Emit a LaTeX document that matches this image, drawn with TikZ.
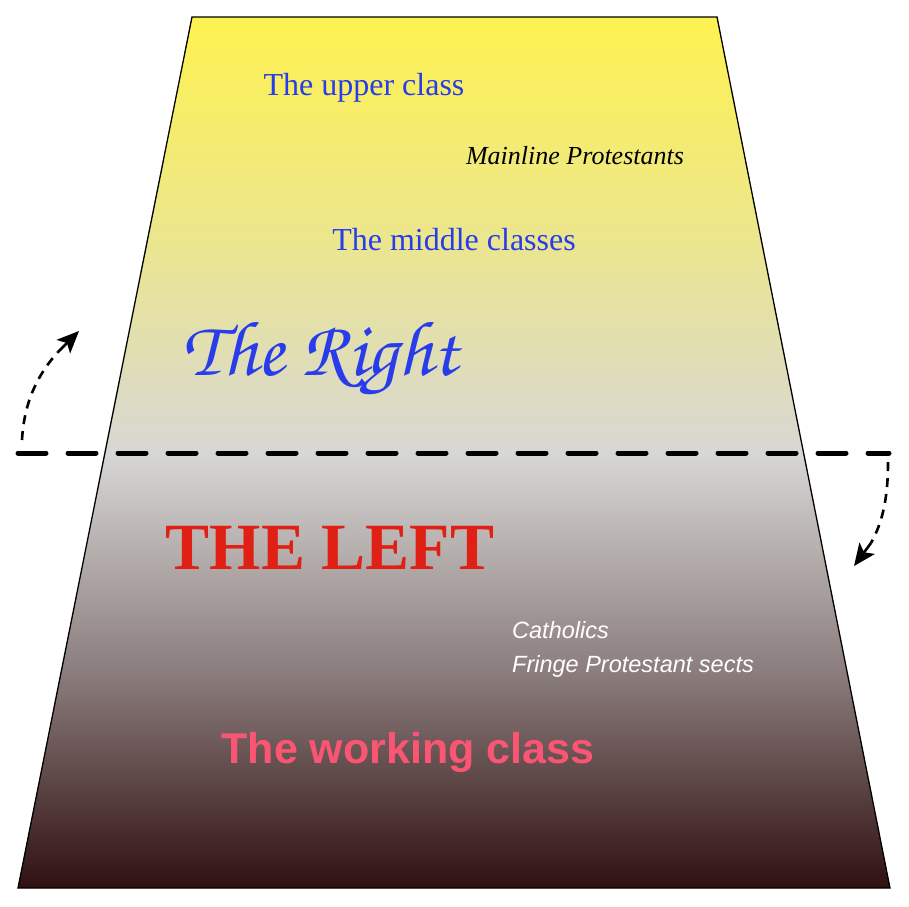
\documentclass[tikz,border=0pt]{standalone}
\usepackage{fontspec}
\usepackage{graphicx}
\setmainfont{Liberation Serif}
\newfontfamily\sansf{Liberation Sans}
\usetikzlibrary{arrows.meta}
\definecolor{topy}{RGB}{254,242,80}
\definecolor{upq}{RGB}{236,230,140}
\definecolor{midg}{RGB}{215,215,213}
\definecolor{lowq}{RGB}{140,126,126}
\definecolor{boty}{RGB}{48,16,16}
\definecolor{txtblue}{RGB}{40,60,235}
\definecolor{leftred}{RGB}{224,32,20}
\definecolor{workpink}{RGB}{250,85,115}
\pgfdeclareverticalshading{trapshade}{100bp}{color(0bp)=(boty); color(25bp)=(boty); color(37.5bp)=(lowq); color(50bp)=(midg); color(62.5bp)=(upq); color(75bp)=(topy); color(100bp)=(topy)}
\tikzset{
  bluetext/.style={text=txtblue, font=\fontsize{32}{36}\selectfont, inner sep=0pt},
  divider/.style={line width=5pt, dash pattern=on 28pt off 22pt, line cap=round},
  turnarrow/.style={line width=2.6pt, dash pattern=on 9pt off 7pt},
  bigtip/.style={line width=2.6pt, solid, -{Stealth[length=22pt,width=19pt,inset=5pt]}},
}
\begin{document}
\begin{tikzpicture}[x=1pt,y=-1pt]
\useasboundingbox (0,0) rectangle (909,906);
\shade[shading=trapshade, draw=black, line width=1.3pt] (192,17) -- (717,17) -- (890,888) -- (18,888) -- cycle;

\node[bluetext] (upper) at (364,88) {The upper class};
\node[inner sep=0pt, font=\itshape\fontsize{26}{30}\selectfont] (mainline) at (575,156) {Mainline Protestants};
\node[bluetext] (middle) at (454,240) {The middle classes};
\node[inner sep=0pt, text=txtblue] (right) at (320,360) {\resizebox{275pt}{!}{\fontencoding{OT1}\fontfamily{pzc}\fontseries{mb}\fontshape{it}\selectfont The Right}};
\node[inner sep=0pt, text=leftred, font=\bfseries\fontsize{66}{70}\selectfont] (left) at (330,548) {THE LEFT};
\node[anchor=base west, inner sep=0pt, text=white, font=\sansf\itshape\fontsize{23.5}{28}\selectfont] (cath) at (512,638) {Catholics};
\node[anchor=base west, inner sep=0pt, text=white, font=\sansf\itshape\fontsize{23.5}{28}\selectfont] (fringe) at (512,672) {Fringe Protestant sects};
\node[inner sep=0pt, text=workpink, font=\sansf\bfseries\fontsize{43}{48}\selectfont] (working) at (408,752) {The working class};

\coordinate (dl) at (18,453);
\coordinate (dr) at (889,453);
\draw[divider] (dl) -- (dr);

\coordinate (la) at (22,440);
\coordinate (lm) at (58,352);
\coordinate (lb) at (79,331);
\draw[turnarrow] (la) .. controls (24,402) and (38,374) .. (lm);
\draw[bigtip] (lm) -- (lb);
\coordinate (ra) at (888,462);
\coordinate (rm) at (871,543);
\coordinate (rb) at (854,566);
\draw[turnarrow] (ra) .. controls (888,500) and (882,523) .. (rm);
\draw[bigtip] (rm) -- (rb);
\end{tikzpicture}
\end{document}
